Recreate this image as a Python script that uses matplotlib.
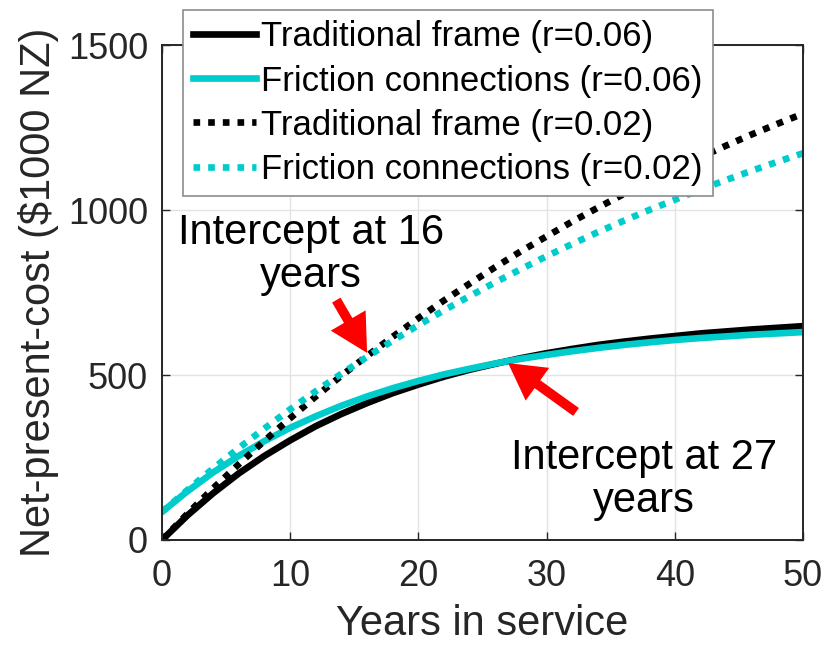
import matplotlib.pyplot as plt

plt.rcParams['font.family'] = ['Liberation Sans', 'DejaVu Sans']

# Net-present-cost (values in $1000 NZ)
years = [0, 2, 4, 6, 8, 10, 12, 14, 16, 18, 20, 22, 24, 26, 28, 30,
         32, 34, 36, 38, 40, 42, 44, 46, 48, 50]
trad_r06 = [0, 75, 142, 202, 255, 302, 345, 382, 415, 445, 471, 495, 516,
            534, 551, 566, 579, 591, 601, 610, 618, 626, 632, 638, 643, 648]
fric_r06 = [85, 148, 205, 255, 300, 340, 375, 407, 435, 460, 482, 502, 519,
            535, 549, 561, 572, 582, 591, 599, 606, 612, 617, 622, 626, 630]
trad_r02 = [0, 80, 157, 230, 301, 369, 435, 498, 558, 616, 672, 726, 777,
            827, 875, 920, 965, 1007, 1048, 1087, 1124, 1160, 1195, 1229, 1261, 1292]
fric_r02 = [85, 152, 217, 279, 338, 396, 451, 504, 555, 604, 651, 696, 739,
            781, 821, 860, 897, 933, 967, 1000, 1031, 1062, 1091, 1119, 1146, 1172]

labels = ['Traditional frame (r=0.06)', 'Friction connections (r=0.06)',
          'Traditional frame (r=0.02)', 'Friction connections (r=0.02)']

cyan = '#00cccc'
dark = '#262626'

fig = plt.figure(figsize=(8.34, 6.46), dpi=100)
ax = fig.add_axes([0.1942, 0.1641, 0.7686, 0.7662])

dots = (0, (1, 1.2))
ax.plot(years, trad_r06, color='black', lw=4.8, label=labels[0])
ax.plot(years, fric_r06, color=cyan, lw=4.8, label=labels[1])
ax.plot(years, trad_r02, color='black', lw=4.8, ls=dots, dash_capstyle='butt', label=labels[2])
ax.plot(years, fric_r02, color=cyan, lw=4.8, ls=dots, dash_capstyle='butt', label=labels[3])

ax.set_xlim(0, 50)
ax.set_ylim(0, 1500)
ax.set_xticks([0, 10, 20, 30, 40, 50])
ax.set_yticks([0, 500, 1000, 1500])
ax.grid(True, color='#e3e3e3', lw=1)
ax.set_axisbelow(True)
ax.tick_params(direction='in', length=6, width=1, colors=dark, labelsize=26,
               top=True, right=True, pad=10)
ax.tick_params(axis='x', pad=14)
for s in ax.spines.values():
    s.set_color(dark)
    s.set_linewidth(1.4)

ax.set_xlabel('Years in service', fontsize=30, color=dark, labelpad=7)
ax.set_ylabel('Net-present-cost ($1000 NZ)', fontsize=30, color=dark, labelpad=6)

# annotations with red arrows
ax.annotate('', xy=(16.0, 567), xytext=(13.6, 727),
            arrowprops=dict(facecolor='red', edgecolor='none', width=7,
                            headwidth=29, headlength=27, shrink=0))
ax.annotate('', xy=(27.0, 536), xytext=(32.3, 388),
            arrowprops=dict(facecolor='red', edgecolor='none', width=7,
                            headwidth=29, headlength=26, shrink=0))
ax.text(11.6, 864, 'Intercept at 16\nyears', ha='center', va='center',
        fontsize=30, linespacing=1.1)
ax.text(37.6, 182, 'Intercept at 27\nyears', ha='center', va='center',
        fontsize=30, linespacing=1.1)

leg = ax.legend(loc='upper left', bbox_to_anchor=(183 / 834, 1 - 10 / 646),
                bbox_transform=fig.transFigure, borderaxespad=0, fontsize=25,
                frameon=True, fancybox=False, framealpha=1, handlelength=1.8,
                handletextpad=0.15, labelspacing=0.32, borderpad=0.3)
leg.get_frame().set_edgecolor('#8c8c8c')
leg.get_frame().set_linewidth(1.2)

fig.savefig('out.png', dpi=100)
